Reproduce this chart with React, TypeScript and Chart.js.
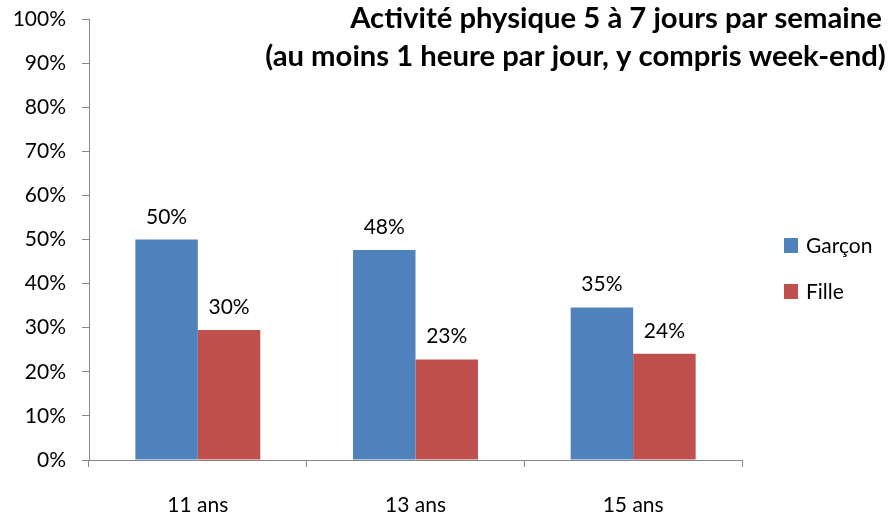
import React, { useEffect, useRef } from "react";
import { Chart, registerables } from "chart.js";

Chart.register(...registerables);

const categories = ["11 ans", "13 ans", "15 ans"];
const seriesNames = ["Garçon", "Fille"];
const garcon = [50, 47.6, 34.6];
const fille = [29.5, 22.8, 24.1];
const garconLabels = ["50%", "48%", "35%"];
const filleLabels = ["30%", "23%", "24%"];
const titleLines = [
  "Activité physique 5 à 7 jours par semaine",
  "(au moins 1 heure par jour, y compris week-end)",
];
const yMin = 0;
const yMax = 100;
const yStep = 10;

const BLUE = "#4F81BD";
const RED = "#C0504D";
const AXIS = "#878787";
const FONT = "Lato, 'Open Sans', sans-serif";

const overlayPlugin = {
  id: "overlay",
  afterDraw(chart: any) {
    const ctx = chart.ctx;
    const area = chart.chartArea;
    ctx.save();
    // data labels
    const labelSets = [garconLabels, filleLabels];
    ctx.fillStyle = "#000";
    ctx.font = `21px ${FONT}`;
    ctx.textAlign = "center";
    ctx.textBaseline = "alphabetic";
    chart.data.datasets.forEach((_: any, di: number) => {
      const meta = chart.getDatasetMeta(di);
      meta.data.forEach((bar: any, i: number) => {
        ctx.fillText(labelSets[di][i], bar.x, bar.y - 16);
      });
    });
    // legend
    const colors = [BLUE, RED];
    const lx = area.right + 42;
    const ly = [246, 292];
    seriesNames.forEach((name, i) => {
      ctx.fillStyle = colors[i];
      ctx.fillRect(lx, ly[i] - 8, 14, 15);
      ctx.fillStyle = "#000";
      ctx.textAlign = "left";
      ctx.textBaseline = "middle";
      ctx.font = `21px ${FONT}`;
      ctx.fillText(name, lx + 22, ly[i]);
    });
    // title
    ctx.font = `bold 20px ${FONT}`;
    const w2 = ctx.measureText(titleLines[1]).width;
    const size = (20 * 621) / w2;
    ctx.font = `bold ${size}px ${FONT}`;
    ctx.fillStyle = "#000";
    ctx.textAlign = "center";
    ctx.textBaseline = "alphabetic";
    ctx.fillText(titleLines[0], 616, 28);
    ctx.fillText(titleLines[1], 575.5, 66);
    ctx.restore();
  },
};

export default function App() {
  const ref = useRef<HTMLCanvasElement | null>(null);
  useEffect(() => {
    document.body.style.margin = "0";
    if (!ref.current) return;
    const chart = new Chart(ref.current, {
      type: "bar",
      data: {
        labels: categories,
        datasets: [
          {
            label: seriesNames[0],
            data: garcon,
            backgroundColor: BLUE,
            borderWidth: 0,
            categoryPercentage: 0.574,
            barPercentage: 1,
          },
          {
            label: seriesNames[1],
            data: fille,
            backgroundColor: RED,
            borderWidth: 0,
            categoryPercentage: 0.574,
            barPercentage: 1,
          },
        ],
      },
      options: {
        animation: false,
        responsive: false,
        devicePixelRatio: 1,
        layout: { padding: { top: 19, right: 149, left: 0, bottom: 0 } },
        plugins: {
          legend: { display: false },
          title: { display: false },
          tooltip: { enabled: false },
        },
        scales: {
          x: {
            ticks: { color: "#000", font: { family: FONT, size: 21 }, padding: 26 },
            grid: {
              drawOnChartArea: false,
              drawTicks: true,
              tickLength: 7,
              color: AXIS,
              offset: true,
            },
            border: { display: true, color: AXIS, width: 1 },
            afterFit: (s: any) => {
              s.height = 56;
              s.paddingLeft = 0;
              s.paddingRight = 0;
            },
          },
          y: {
            min: yMin,
            max: yMax,
            ticks: {
              stepSize: yStep,
              color: "#000",
              font: { family: FONT, size: 21 },
              padding: 16,
              callback: (v: any) => v + "%",
            },
            grid: {
              drawOnChartArea: false,
              drawTicks: true,
              tickLength: 7,
              color: AXIS,
            },
            border: { display: true, color: AXIS, width: 1 },
            afterFit: (s: any) => {
              s.width = 89;
              s.paddingTop = 0;
              s.paddingBottom = 0;
            },
          },
        },
      },
      plugins: [overlayPlugin],
    });
    return () => chart.destroy();
  }, []);
  return (
    <div style={{ width: 891, height: 516 }}>
      <canvas ref={ref} width={891} height={516} />
    </div>
  );
}
